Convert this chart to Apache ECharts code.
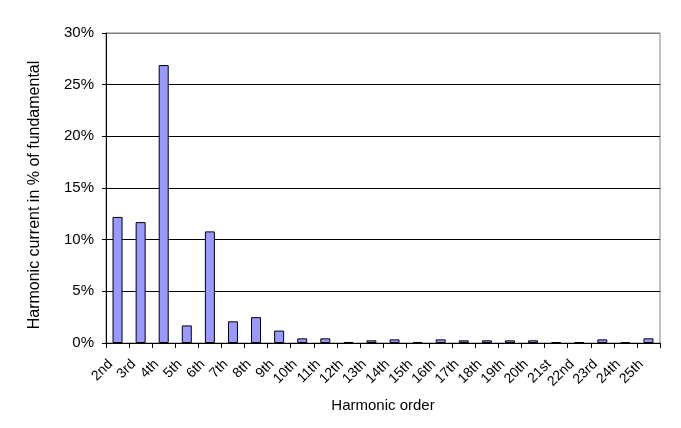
<!DOCTYPE html>
<html>
<head>
<meta charset="utf-8">
<script src="https://cdn.jsdelivr.net/npm/echarts@6/dist/echarts.min.js"></script>
<style>
  html, body { margin: 0; padding: 0; background: #fff; }
  #chart { width: 681px; height: 428px; }
</style>
</head>
<body>
<div id="chart"></div>
<script>
const harmonicOrders = ['2nd', '3rd', '4th', '5th', '6th', '7th', '8th', '9th', '10th', '11th', '12th', '13th',
  '14th', '15th', '16th', '17th', '18th', '19th', '20th', '21st', '22nd', '23rd', '24th', '25th']
const harmonicCurrent = [12.2, 11.7, 26.9, 1.7, 10.8, 2.1, 2.5, 1.2, 0.45, 0.45, 0.1, 0.26,
  0.35, 0.1, 0.35, 0.26, 0.26, 0.26, 0.26, 0.08, 0.08, 0.35, 0.08, 0.45]

const chart = echarts.init(document.getElementById('chart'))
const font = 'Liberation Sans, Arial, sans-serif'

const option = {
  animation: false,
  grid: {
    left: 106,
    right: 21,
    top: 33,
    bottom: 85,
    show: true,
    borderColor: '#808080',
    borderWidth: 1
  },
  xAxis: {
    type: 'category',
    data: harmonicOrders,
    name: 'Harmonic order',
    nameLocation: 'middle',
    nameGap: 55,
    nameTextStyle: { fontFamily: font, fontSize: 15, color: '#000' },
    axisLine: { lineStyle: { color: '#000', width: 1 } },
    axisTick: { show: true, alignWithLabel: false, length: 5, lineStyle: { color: '#000' } },
    axisLabel: {
      interval: 0, rotate: 45, fontFamily: font, fontSize: 14, color: '#000',
      margin: 12, padding: [0, 10, 0, 0]
    }
  },
  yAxis: {
    type: 'value',
    min: 0,
    max: 30,
    interval: 5,
    name: 'Harmonic current in % of fundamental',
    nameLocation: 'middle',
    nameGap: 63,
    nameTextStyle: { fontFamily: font, fontSize: 16, color: '#000', padding: [0, 14, 0, 0] },
    axisLine: { show: true, lineStyle: { color: '#000', width: 1 } },
    axisTick: { show: true, length: 4, lineStyle: { color: '#000' } },
    axisLabel: { formatter: '{value}%', fontFamily: font, fontSize: 15, color: '#000', margin: 12 },
    splitLine: {
      show: true,
      lineStyle: { color: ['#000', '#000', '#000', '#000', '#000', '#000', '#808080'], width: 1 }
    }
  },
  series: [
    {
      type: 'bar',
      data: harmonicCurrent,
      barWidth: 10,
      itemStyle: { color: '#9999ff', borderColor: '#000', borderWidth: 1 }
    }
  ]
}

chart.setOption(option)
</script>
</body>
</html>
